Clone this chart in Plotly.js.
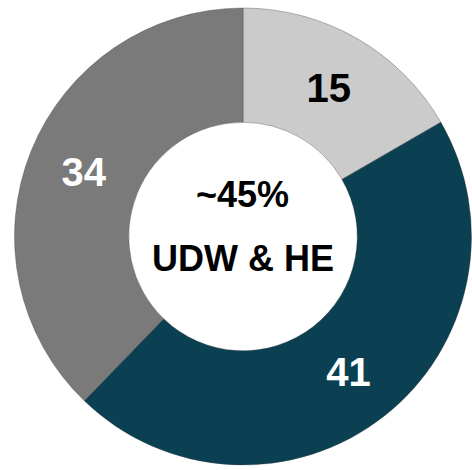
<!DOCTYPE html>
<html>
<head>
<meta charset="utf-8">
<script src="https://cdn.plot.ly/plotly-3.0.1.min.js"></script>
<style>html,body{margin:0;padding:0;background:#fff;}#chart{width:472px;height:470px;}</style>
</head>
<body>
<div id="chart"></div>
<script>
const categories = ["Segment A", "Segment B", "Segment C"];
const values = [15, 41, 34];
const sliceColors = ["#cbcbcb", "#0a4052", "#7a7a7a"];
const labelColors = ["#000000", "#ffffff", "#ffffff"];
const centerTop = "~45%";
const centerBottom = "UDW & HE";

const trace = {
  type: "pie",
  labels: categories,
  values: values,
  sort: false,
  direction: "clockwise",
  rotation: 0,
  hole: 0.5,
  textinfo: "value",
  textposition: "inside",
  insidetextorientation: "horizontal",
  textfont: { family: "Liberation Sans, Arial, sans-serif", size: 40, color: labelColors, weight: "bold" },
  marker: { colors: sliceColors, line: { color: "rgba(60,60,60,0.35)", width: 1 } },
  domain: { x: [14/472, 1.0], y: [5/470, 462/470] },
  showlegend: false,
  hoverinfo: "none"
};

const layout = {
  width: 472,
  height: 470,
  margin: { l: 0, r: 0, t: 0, b: 0 },
  paper_bgcolor: "#ffffff",
  showlegend: false,
  annotations: [
    { text: "<b>" + centerTop + "</b>", x: 243/472, y: 1 - 194/470, xref: "paper", yref: "paper",
      showarrow: false, font: { family: "Liberation Sans, Arial, sans-serif", size: 36, color: "#000" } },
    { text: "<b>" + centerBottom + "</b>", x: 243/472, y: 1 - 258/470, xref: "paper", yref: "paper",
      showarrow: false, font: { family: "Liberation Sans, Arial, sans-serif", size: 36, color: "#000" } }
  ]
};

Plotly.newPlot("chart", [trace], layout, { displayModeBar: false, staticPlot: true });
</script>
</body>
</html>
